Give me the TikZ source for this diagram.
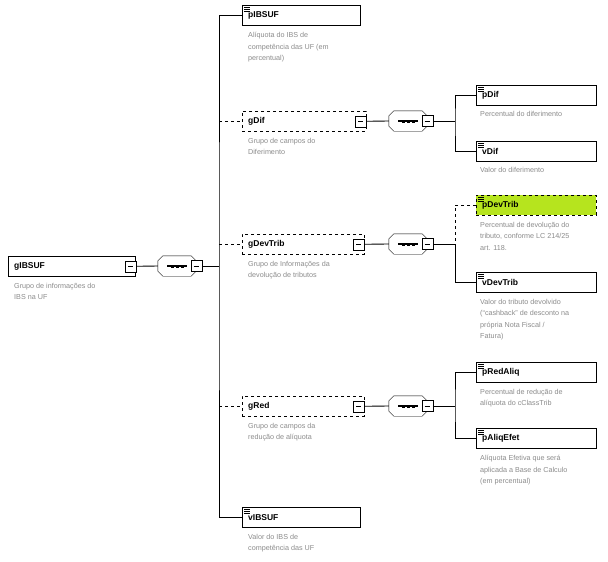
\documentclass[tikz,border=0pt]{standalone}
\usepackage{fontspec}
\setmainfont{Liberation Sans}
\usetikzlibrary{positioning,backgrounds}

\tikzset{
    elem/.style={draw, fill=white, anchor=north west, minimum height=20pt, minimum width=#1,
        inner xsep=6pt, inner ysep=0pt, text width=#1-12pt, align=left,
        font=\bfseries\fontsize{8.5}{10}\selectfont},
    elem/.default=120pt,
    optelem/.style={elem=#1, dashed},
    optelem/.default=120pt,
    desc/.style={anchor=north west, inner sep=0pt, align=left, text=black!45,
        font=\fontsize{7.2}{11.5}\selectfont},
    minus/.style={draw, fill=white, minimum size=11pt, inner sep=0pt},
    seq/.style={minimum width=38pt, minimum height=20pt, inner sep=0pt},
    conn/.style={line width=0.8pt}
}

\newcommand{\icon}[1]{%
    \foreach \dy in {2.5,4.5,6.5} \draw[line width=0.6pt] ([xshift=2pt,yshift=-\dy pt]#1.north west) -- ++(6pt,0);}
\newcommand{\boxshadow}[2][3pt]{%
    \begin{scope}[on background layer]
    \fill[black!30] ([xshift=#1,yshift=-#1]#2.south west) rectangle ([xshift=#1,yshift=-#1]#2.north east);
    \end{scope}}
\newcommand{\minusbar}[1]{%
    \boxshadow[2pt]{#1}
    \draw[line width=0.7pt] ([xshift=-2.5pt]#1.center) -- ++(5pt,0);}
\newcommand{\seqdots}[1]{%
    \begin{scope}[on background layer]
    \fill[black!30, shift={(3pt,-3pt)}] ([xshift=5pt]#1.north west) -- ([xshift=-5pt]#1.north east) -- ([yshift=-5pt]#1.north east) -- ([yshift=5pt]#1.south east) -- ([xshift=-5pt]#1.south east) -- ([xshift=5pt]#1.south west) -- ([yshift=5pt]#1.south west) -- ([yshift=-5pt]#1.north west) -- cycle;
    \end{scope}
    \draw[fill=white] ([xshift=5pt]#1.north west) -- ([xshift=-5pt]#1.north east) -- ([yshift=-5pt]#1.north east) -- ([yshift=5pt]#1.south east) -- ([xshift=-5pt]#1.south east) -- ([xshift=5pt]#1.south west) -- ([yshift=5pt]#1.south west) -- ([yshift=-5pt]#1.north west) -- cycle;
    \draw[line width=1.2pt] ([xshift=-10pt]#1.center) -- ([xshift=10pt]#1.center);
    \foreach \dx in {-5,0,5} \fill ([xshift=\dx pt-1.5pt,yshift=-1.5pt]#1.center) rectangle ++(3pt,3pt);}

\begin{document}
\begin{tikzpicture}[x=1pt,y=-1pt]
    \fill[white] (0,0) rectangle (608,562);
    \useasboundingbox (0,0) rectangle (608,562);

    % root
    \node[elem=127pt] (gIBSUF) at (8,256) {gIBSUF};
    \boxshadow{gIBSUF}
    \node[minus, anchor=east] (gIBSUFm) at ([xshift=1pt]gIBSUF.east) {};
    \minusbar{gIBSUFm}
    \node[desc] (gIBSUFd) at (14,283) {Grupo de informações do\\IBS na UF};

    \node[seq] (seq1) at (177,266) {};
    \seqdots{seq1}
    \node[minus] (seq1m) at (seq1.east) {};
    \minusbar{seq1m}
    \coordinate (tr) at (219,266);

    % children of gIBSUF
    \node[elem=118pt] (pIBSUF) at (242,5) {pIBSUF};
    \boxshadow{pIBSUF}
    \icon{pIBSUF}
    \node[desc] at (248,32) {Alíquota do IBS de\\competência das UF (em\\percentual)};

    \node[optelem=124pt] (gDif) at (242,111) {gDif};
    \boxshadow{gDif}
    \node[minus, anchor=east] (gDifm) at (gDif.east) {};
    \minusbar{gDifm}
    \node[desc] at (248,138) {Grupo de campos do\\Diferimento};

    \node[optelem=122pt] (gDevTrib) at (242,234) {gDevTrib};
    \boxshadow{gDevTrib}
    \node[minus, anchor=east] (gDevTribm) at (gDevTrib.east) {};
    \minusbar{gDevTribm}
    \node[desc] at (248,261) {Grupo de Informações da\\devolução de tributos};

    \node[optelem=122pt] (gRed) at (242,396) {gRed};
    \boxshadow{gRed}
    \node[minus, anchor=east] (gRedm) at (gRed.east) {};
    \minusbar{gRedm}
    \node[desc] at (248,423) {Grupo de campos da\\redução de alíquota};

    \node[elem=118pt] (vIBSUF) at (242,507) {vIBSUF};
    \boxshadow{vIBSUF}
    \icon{vIBSUF}
    \node[desc] at (248,534) {Valor do IBS de\\competência das UF};

    % compositors
    \node[seq] (seq2) at (408,121) {};
    \seqdots{seq2}
    \node[minus] (seq2m) at (seq2.east) {};
    \minusbar{seq2m}
    \node[seq] (seq3) at (408,244) {};
    \seqdots{seq3}
    \node[minus] (seq3m) at (seq3.east) {};
    \minusbar{seq3m}
    \node[seq] (seq4) at (408,406) {};
    \seqdots{seq4}
    \node[minus] (seq4m) at (seq4.east) {};
    \minusbar{seq4m}
    \coordinate (br) at (455,0);

    % leaves
    \node[elem] (pDif) at (476,85) {pDif};
    \boxshadow{pDif}
    \icon{pDif}
    \node[desc] at (480,111) {Percentual do diferimento};
    \node[elem] (vDif) at (476,141) {vDif};
    \boxshadow{vDif}
    \icon{vDif}
    \node[desc] at (480,167) {Valor do diferimento};

    \node[optelem, fill={rgb,255:red,182;green,228;blue,30}] (pDevTrib) at (476,195) {pDevTrib};
    \boxshadow{pDevTrib}
    \icon{pDevTrib}
    \node[desc] at (480,222) {Percentual de devolução do\\tributo, conforme LC 214/25\\art. 118.};
    \node[elem] (vDevTrib) at (476,272) {vDevTrib};
    \boxshadow{vDevTrib}
    \icon{vDevTrib}
    \node[desc] at (480,299) {Valor do tributo devolvido\\(``cashback'' de desconto na\\própria Nota Fiscal /\\Fatura)};

    \node[elem] (pRedAliq) at (476,362) {pRedAliq};
    \boxshadow{pRedAliq}
    \icon{pRedAliq}
    \node[desc] at (480,389) {Percentual de redução de\\alíquota do cClassTrib};
    \node[elem] (pAliqEfet) at (476,428) {pAliqEfet};
    \boxshadow{pAliqEfet}
    \icon{pAliqEfet}
    \node[desc] at (480,455) {Alíquota Efetiva que será\\aplicada a Base de Calculo\\(em percentual)};

    % connectors
    \draw[conn] (gIBSUFm) -- (seq1);
    \draw[conn] (seq1m) -- (tr);
    \draw[conn] (pIBSUF.west) -| (tr) |- (vIBSUF.west);
    \draw[conn, dashed] (tr |- gDif.west) -- (gDif.west);
    \draw[conn, dashed] (tr |- gDevTrib.west) -- (gDevTrib.west);
    \draw[conn, dashed] (tr |- gRed.west) -- (gRed.west);

    \draw[conn] (gDifm) -- (seq2);
    \draw[conn] (seq2m) -- (br |- seq2m);
    \draw[conn] (pDif.west) -| (br |- seq2m) |- (vDif.west);
    \draw[conn] (gDevTribm) -- (seq3);
    \draw[conn] (seq3m) -- (br |- seq3m);
    \draw[conn, dashed] (pDevTrib.west) -| (br |- seq3m);
    \draw[conn] (br |- seq3m) |- (vDevTrib.west);
    \draw[conn] (gRedm) -- (seq4);
    \draw[conn] (seq4m) -- (br |- seq4m);
    \draw[conn] (pRedAliq.west) -| (br |- seq4m) |- (pAliqEfet.west);
\end{tikzpicture}
\end{document}
